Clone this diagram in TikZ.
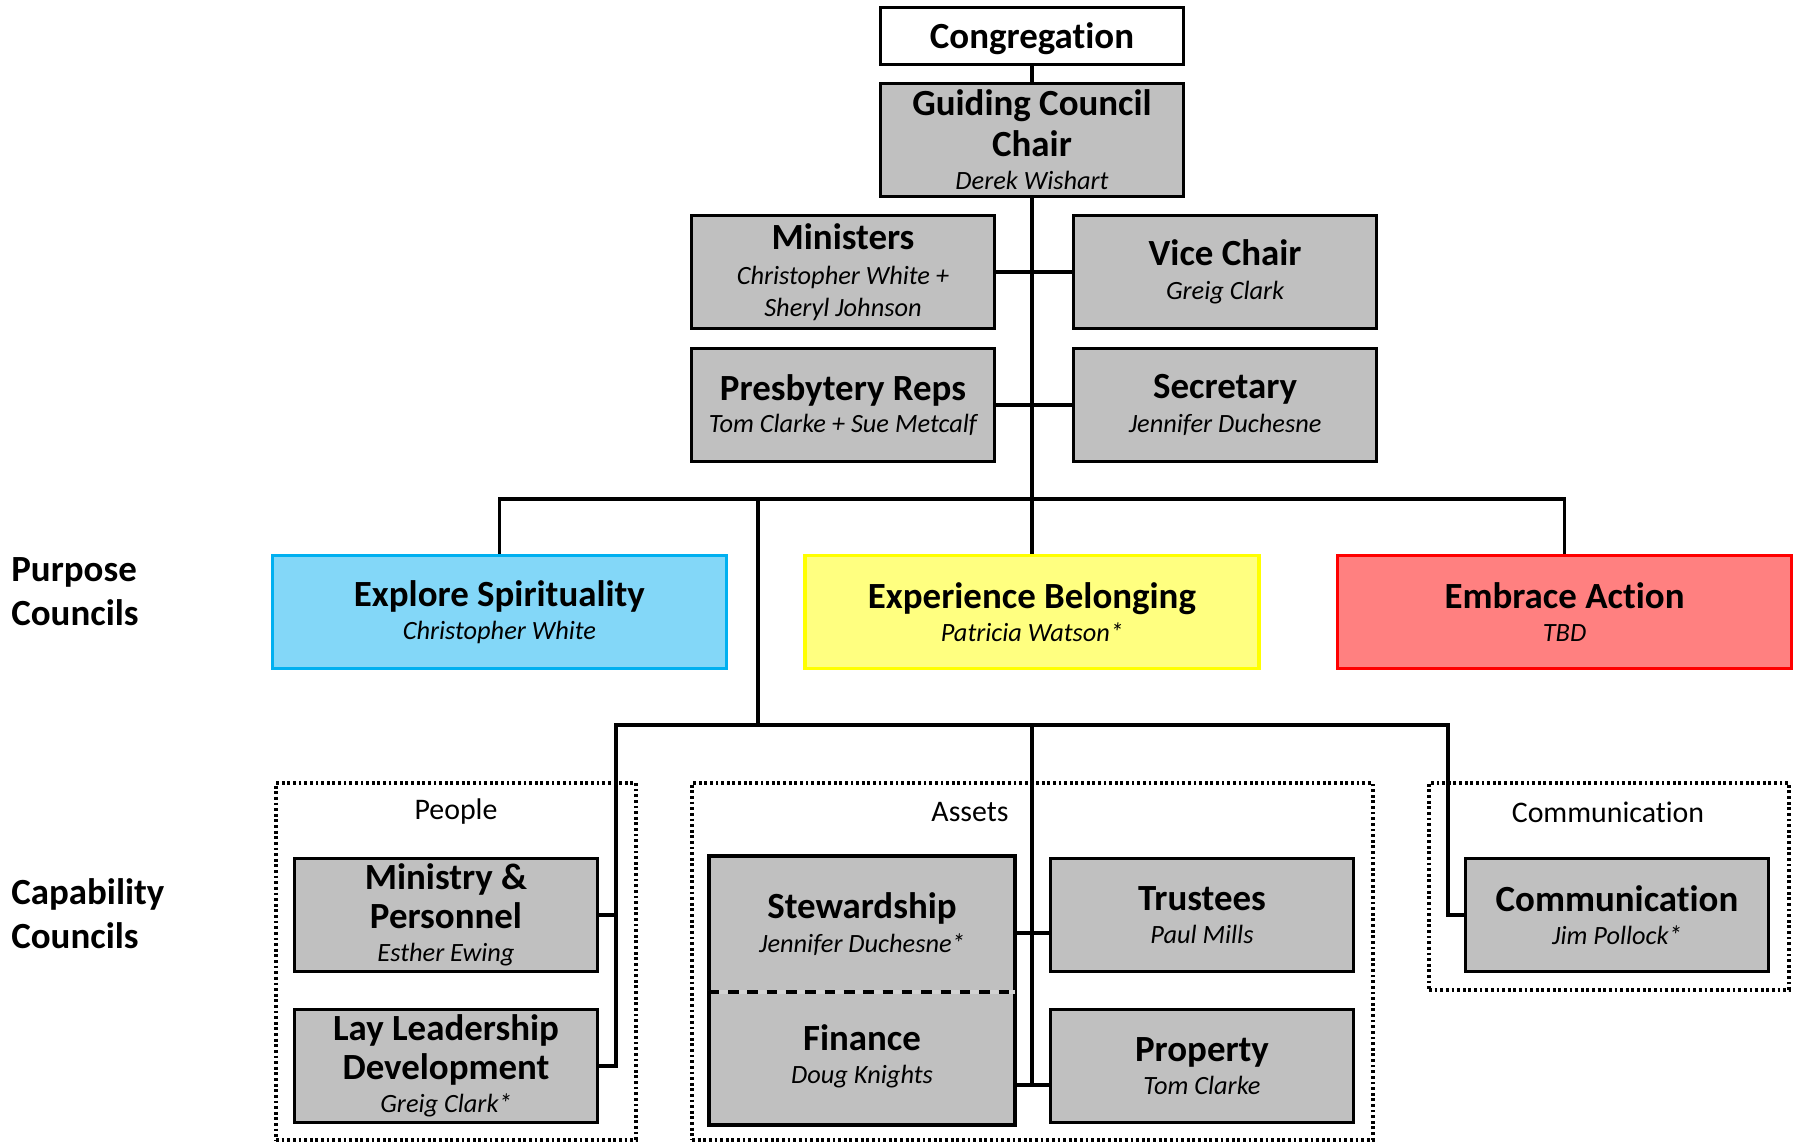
\documentclass[tikz,border=0pt]{standalone}
\usepackage{fontspec}
\setmainfont{Carlito}[Ligatures=NoCommon]
\usetikzlibrary{positioning}

\definecolor{boxgray}{HTML}{C0C0C0}
\definecolor{bluefill}{HTML}{83D7F8}
\definecolor{blueline}{HTML}{00B0F0}
\definecolor{yellowfill}{HTML}{FFFF80}
\definecolor{yellowline}{HTML}{FFFF00}
\definecolor{redfill}{HTML}{FF8080}
\definecolor{redline}{HTML}{FF0000}

\newcommand{\tit}[1]{{\fontsize{21}{24}\selectfont\bfseries\upshape #1}}

\begin{document}
\begin{tikzpicture}[x=0.02cm,y=-0.02cm,
    every node/.style={font=\fontsize{15}{18}\selectfont\itshape},
    box/.style={draw, line width=2.1pt, fill=boxgray, align=center,
        minimum width=6.06cm, minimum height=2.26cm, inner sep=1pt},
    purpose/.style={box, minimum width=9.08cm},
    link/.style={line width=2.1pt},
    group/.style={draw, line width=1.8pt, dash pattern=on 1.6pt off 1.6pt,
        minimum width=7.2cm},
    grouplbl/.style={font=\fontsize{17}{20}\selectfont\upshape},
    side/.style={anchor=west, align=left, inner sep=0pt,
        font=\fontsize{21}{25}\selectfont\bfseries\upshape}]

    \useasboundingbox (0,0) rectangle (1800,1142);

    % capability groups (dotted)
    \node[group, minimum height=7.14cm] (people) at (456,961.5) {};
    \node[group, minimum width=13.62cm, minimum height=7.14cm] (assets) at (1032.5,961.5) {};
    \node[group, minimum height=4.14cm] (commgrp) at (1609,886.5) {};
    \node[grouplbl] (peoplelbl) at (456,812) {People};
    \node[grouplbl] (assetslbl) at (970,812) {Assets};
    \node[grouplbl] (commlbl) at (1608,812) {Communication};

    % guiding council
    \node[box, fill=white, minimum height=1.14cm, text depth=0pt] (cong) at (1032,36) {\tit{Congregation}};
    \node[box] (chair) at (1032,140) {\tit{Guiding Council}\\[4pt]\tit{Chair}\\[1pt] Derek Wishart};
    \node[box] (min) at (843,272) {\tit{Ministers}\\[2pt] Christopher White +\\ Sheryl Johnson};
    \node[box, right=1.51cm of min] (vice) {\tit{Vice Chair}\\[1pt] Greig Clark};
    \node[box] (pres) at (843,405) {\tit{Presbytery Reps}\\ Tom Clarke + Sue Metcalf};
    \node[box, right=1.51cm of pres] (sec) {\tit{Secretary}\\[1pt] Jennifer Duchesne};

    % purpose councils
    \node[purpose, fill=yellowfill, draw=yellowline] (exper) at (1032,612) {\tit{Experience Belonging}\\[1pt] Patricia Watson*};
    \node[purpose, fill=bluefill, draw=blueline, left=1.5cm of exper] (explore) {\tit{Explore Spirituality}\\[1pt] Christopher White};
    \node[purpose, fill=redfill, draw=redline, right=1.5cm of exper] (embrace) {\tit{Embrace Action}\\[1pt] TBD};

    % capability councils
    \node[box] (minper) at (446,915) {\tit{Ministry \&}\\[3pt]\tit{Personnel}\\[1pt] Esther Ewing};
    \node[box] (lay) at (446,1066) {\tit{Lay Leadership}\\[3pt]\tit{Development}\\[1pt] Greig Clark*};
    \node[box, draw=none, minimum height=2.64cm] (steward) at (862,924) {\tit{Stewardship}\\[1pt] Jennifer Duchesne*};
    \node[box, draw=none, minimum height=2.66cm] (finance) at (862,1056.5) {\tit{Finance}\\[1pt] Doug Knights};
    \node[box] (trustees) at (1202,915) {\tit{Trustees}\\[1pt] Paul Mills};
    \node[box] (property) at (1202,1066) {\tit{Property}\\[1pt] Tom Clarke};
    \node[box] (comm) at (1617,915) {\tit{Communication}\\[1pt] Jim Pollock*};

    \draw[line width=2.1pt] (steward.north west) rectangle (finance.south east);
    \draw[line width=2.1pt, gray!35] (steward.south west) -- (steward.south east);
    \draw[line width=2.1pt, dash pattern=on 6pt off 5pt] (steward.south west) -- (steward.south east);

    % side labels
    \node[side] (purposelbl) at (11,592) {Purpose\\Councils};
    \node[side] (capabilitylbl) at (11,914) {Capability\\Councils};

    % connectors
    \coordinate (pbar) at (1032,499);
    \coordinate (pjoin) at (758,499);
    \coordinate (cjoin) at (758,725);
    \coordinate (cleft) at (616,725);
    \coordinate (cmid) at (1032,725);
    \coordinate (cright) at (1448,725);
    \coordinate (stj) at (1032,933);
    \coordinate (fpj) at (1032,1085);

    \draw[link] (cong) -- (chair);
    \draw[link] (chair) -- (exper);
    \draw[link] (min) -- (vice);
    \draw[link] (pres) -- (sec);
    \draw[link] (explore.north) |- (pbar) -| (embrace.north);
    \draw[link] (pjoin) -- (cjoin);
    \draw[link] (minper.east) -| (cleft) -- (cright) |- (comm.west);
    \draw[link] (lay.east) -| (cleft);
    \draw[link] (cmid) -- (fpj);
    \draw[link] (steward.east |- stj) -- (trustees.west |- stj);
    \draw[link] (finance.east |- fpj) -- (property.west |- fpj);
\end{tikzpicture}
\end{document}
